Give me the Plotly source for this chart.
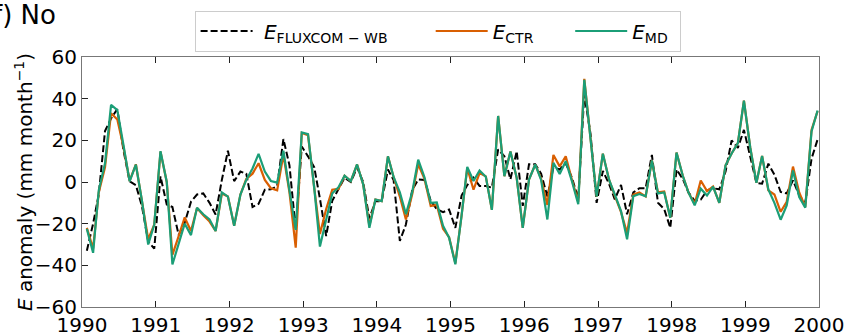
import pandas as pd
import plotly.graph_objects as go

# Monthly anomalies, Jan 1990 - Dec 1999 (mm month^-1)
e_fluxcom = [
    -33, -20, -6, 24.5, 30.5, 35, 15.5, 0.3, -1.5, -11.6, -28.5, -32,
    2.7, -10.8, -12, -25.5, -19.5, -9.5, -6, -5.5, -10, -15.6, 1, 15,
    0.4, 5, 4, -12, -10.5, -3.7, -3.5, -2, 20.6, 8, -23, 17,
    12.3, 7, -8, -26, -9, -3.7, 2, 0, 7, 0, -17.5, -9.2,
    -9.2, 6, 1, -28.3, -20.4, -4, 1.2, 1, -9, -13, -14.5, -13.2,
    -22, -6.5, -1.5, 2.1, -1.9, -1.9, -2.7, 15.6, 12.4, 1.3, 14.8, -11.5,
    8.5, 8.5, 4, -7, 7, 6, 9, 2, -8, 42, 23, -10,
    5.3, -1, -8.3, -1.4, -15.5, -5, -3, -3, 13, -10, -13, -22,
    6, 1.5, -5, -9, -8.5, -4, -3, -3.5, 5, 20, 16.4, 25,
    12, -0.5, -0.8, 8.8, 3.5, -4.8, -5.5, 0.8, -6.4, -10.2, 11.2, 20.4,
]
e_ctr = [
    -22, -32, -5, 7, 33, 30, 17, 0.5, 8.5, -9, -27.5, -20.5,
    14.5, 0, -35, -26, -17, -23.5, -12.5, -16, -19, -23.5, -5.5, -7,
    -21, -6, 1.5, 4, 9, 1, -3, -4, 13, -5, -31.5, 23.5,
    22.5, -3, -25, -13, -3.7, -3.3, 3, 0.4, 8.4, -1, -21, -8.4,
    -9.2, 12.3, 2.4, -7, -18, -6, 8.5, 1.5, -11.5, -11, -22.5, -26.5,
    -39, -16, 6.7, -3.7, 4.3, 2.7, -13.4, 31.7, 2.8, 14.6, 2, -22,
    1.2, 8.4, 1.5, -11, 13, 7.5, 12.3, 1, -9.5, 49.5, 20, -7,
    13.6, 1, -6.5, -14.5, -24.5, -6, -5, -6.9, 10.3, -5, -4.5, -17.1,
    14.1, 3, -5, -10.5, 0.7, -4.4, -2.2, -10, 8, 13.7, 18.7, 39,
    16.7, -0.4, 12.5, -4, -6, -14.3, -9.5, 7.4, -5, -12, 25, 34,
]
e_md = [
    -22.5, -34, -4, 9, 37, 34.5, 18, 0.3, 8.3, -9, -30, -20.5,
    14.8, 0, -39.6, -30, -20, -25.5, -12.3, -15.5, -18, -23.5, -5, -7,
    -21, -6, 1, 6.5, 13.5, 5, 0.5, -0.3, 15, -4, -23, 23.8,
    23, -3, -31, -18, -5.5, -2.5, 3, 0.4, 8.4, -1, -22, -8.4,
    -9.2, 12.3, 2.4, -5, -15.4, -5, 10.7, 2.3, -10, -9.8, -21, -26.7,
    -39.5, -16, 7.2, 0.5, 5.5, 2.5, -13.4, 31.7, 2.8, 14.6, 2, -22,
    1.2, 8.4, 1, -18, 9.2, 3.8, 10, 0.3, -10.7, 49, 20, -7,
    13.6, 1, -6, -14, -27.5, -6.8, -5.8, -6.9, 10.3, -5.5, -5, -17.1,
    14.1, 3, -5, -11.2, -3.2, -6.5, -2.2, -10, 8, 13.7, 18.7, 39,
    16.7, -0.4, 12.5, -3.6, -10, -18.1, -11.2, 5.5, -7.2, -12.3, 24.3, 34.3,
]
months = pd.date_range("1990-01-01", periods=len(e_md), freq="MS") + pd.Timedelta(days=24)
year_ticks = [str(y) for y in range(1990, 2001)]

FONT = "DejaVu Sans"
SP = "&nbsp;"

fig = go.Figure()
fig.add_trace(go.Scatter(
    x=months, y=e_fluxcom, mode="lines",
    name=SP * 1 + "<i>E</i><sub>FLUXCOM − WB</sub>" + SP * 6,
    line=dict(color="black", width=2, dash="7px,3px"),
))
fig.add_trace(go.Scatter(
    x=months, y=e_ctr, mode="lines",
    name="<i>E</i><sub>CTR</sub>" + SP * 5,
    line=dict(color="#d95f02", width=2.2),
))
fig.add_trace(go.Scatter(
    x=months, y=e_md, mode="lines",
    name="<i>E</i><sub>MD</sub>" + SP,
    line=dict(color="#1b9e77", width=2.2),
))

fig.update_layout(
    width=846, height=336,
    margin=dict(l=82, r=27, t=57, b=29, autoexpand=False),
    paper_bgcolor="white", plot_bgcolor="white",
    font=dict(family=FONT, size=20, color="black"),
    showlegend=True,
    legend=dict(
        orientation="h", x=0.4825, xanchor="center", y=1.022, yanchor="bottom",
        bgcolor="white", bordercolor="#cccccc", borderwidth=1,
        font=dict(size=20), itemwidth=52,
    ),
    xaxis=dict(
        type="date", automargin=False,
        range=[f"{year_ticks[0]}-01-01", f"{year_ticks[-1]}-01-01"],
        tickmode="array",
        tickvals=[f"{y}-01-01" for y in year_ticks],
        ticktext=year_ticks,
        ticks="inside", ticklen=6, tickwidth=1.2, tickcolor="#222",
        showline=True, linecolor="#777", linewidth=1.2, mirror="ticks",
        showgrid=False, zeroline=False,
        tickfont=dict(size=20),
    ),
    yaxis=dict(
        range=[-60, 60], automargin=False,
        tickmode="array", tickvals=[-60, -40, -20, 0, 20, 40, 60],
        ticks="inside", ticklen=6, tickwidth=1.2, tickcolor="#222",
        showline=True, linecolor="#777", linewidth=1.2, mirror=True,
        showgrid=False, zeroline=False,
        tickfont=dict(size=20),
    ),
)
fig.add_annotation(
    text="<i>E</i> anomaly (mm month<sup>−1</sup>)",
    xref="paper", yref="paper", x=-0.0786, y=0.5,
    xanchor="center", yanchor="middle", textangle=-90,
    showarrow=False, font=dict(size=20, family=FONT),
)
fig.add_annotation(
    text="f) No", xref="paper", yref="paper",
    x=-0.124, y=1.17, xanchor="left", yanchor="middle",
    showarrow=False, font=dict(size=26, family=FONT),
)
fig.write_html(
    "out.html",
    config={"displayModeBar": False},
    post_script="document.body.style.margin='0px';document.body.style.padding='0px';",
)
